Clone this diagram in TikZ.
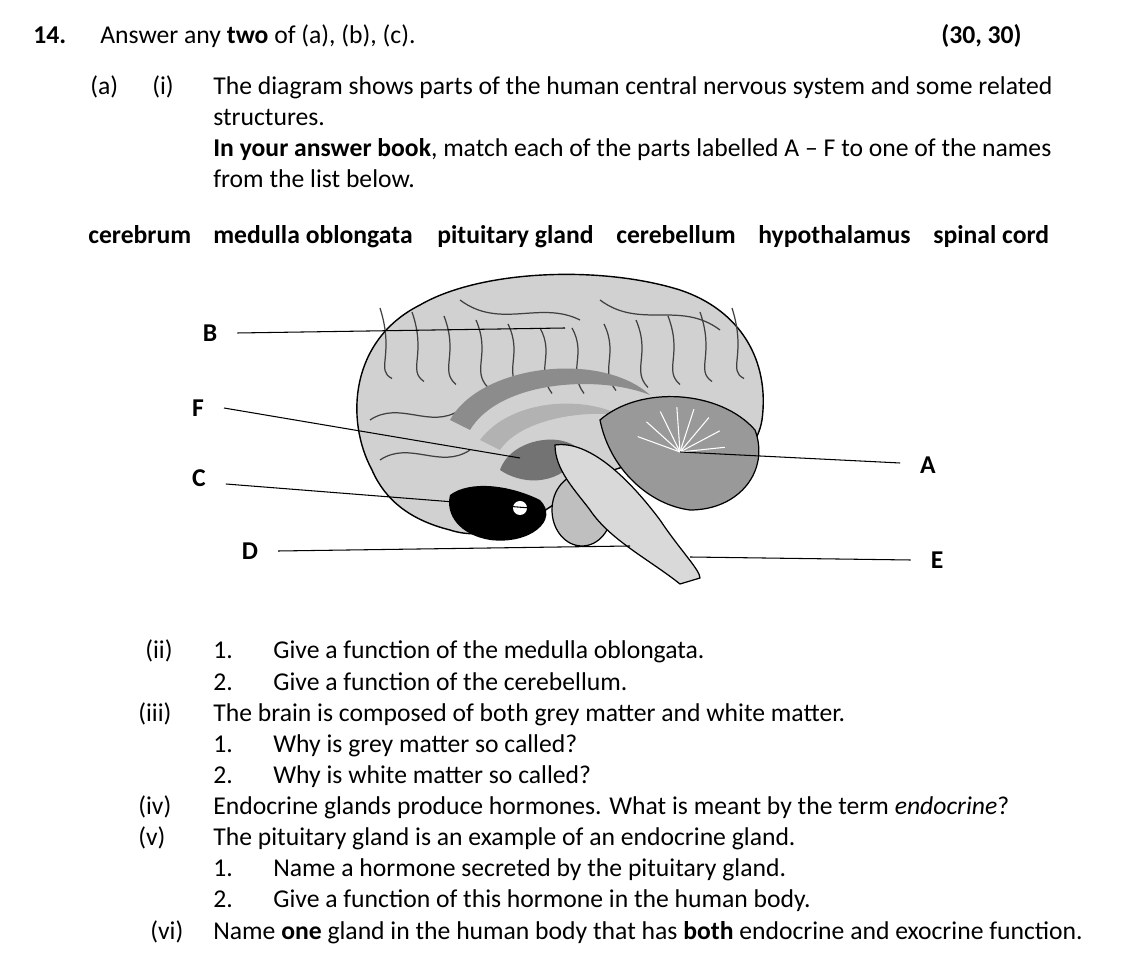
\documentclass[tikz,border=0pt]{standalone}
\usepackage{fontspec}
\setmainfont{Carlito}
\usetikzlibrary{positioning}

\tikzset{
	txt/.style={anchor=west, inner sep=0pt, text height=10pt, text depth=3pt, font=\fontsize{14.6}{18}\selectfont},
	lab/.style={inner sep=1pt, font=\fontsize{14.6}{18}\selectfont\bfseries},
	lead/.style={draw=black, line width=0.6pt},
	gyrus/.style={draw=black!75, line width=0.7pt},
}

\begin{document}
\begin{tikzpicture}[x=0.02cm, y=-0.02cm]
	\useasboundingbox (0,0) rectangle (1130,972);

	% heading
	\node[txt, font=\fontsize{14.6}{18}\selectfont\bfseries] (num) at (33,37) {14.};
	\node[txt] (head) at (100,37) {Answer any \textbf{two} of (a), (b), (c).};
	\node[txt, anchor=east, font=\fontsize{14.6}{18}\selectfont\bfseries] (marks) at (1022,37) {(30, 30)};

	% part (a)(i)
	\node[txt] (pa) at (90,88) {(a)};
	\node[txt] (pi) at (152,88) {(i)};
	\node[txt] (t1) at (213,88) {The diagram shows parts of the human central nervous system and some related};
	\node[txt] (t2) at (213,119) {structures.};
	\node[txt] (t3) at (213,150) {\textbf{In your answer book}, match each of the parts labelled A -- F to one of the names};
	\node[txt] (t4) at (213,181) {from the list below.};

	% word list
	\foreach \x/\w in {88/cerebrum, 213/medulla oblongata, 437/pituitary gland, 616/cerebellum, 758/hypothalamus, 933/spinal cord}
		\node[txt, font=\fontsize{14.6}{18}\selectfont\bfseries] at (\x,237) {\w};

	% brain: cerebrum
	\fill[black!18, draw=black, line width=0.8pt]
		(372,470) .. controls (345,420) and (350,340) .. (420,305)
		.. controls (480,270) and (600,265) .. (680,290)
		.. controls (740,310) and (770,360) .. (762,420)
		.. controls (755,460) and (720,470) .. (690,465)
		.. controls (640,455) and (600,470) .. (560,500)
		.. controls (520,530) and (480,540) .. (450,530)
		.. controls (410,520) and (385,500) .. (372,470) -- cycle;
	% gyri
	\foreach \a in {0,...,11}
		\draw[gyrus] ({380+\a*32},{330-abs(\a-5.5)*4})
			.. controls ({395+\a*32},{355}) and ({375+\a*32},{370}) .. ({392+\a*32},{395-abs(\a-5.5)*3});
	\draw[gyrus] (370,420) .. controls (400,400) and (430,430) .. (460,410);
	\draw[gyrus] (380,460) .. controls (410,440) and (440,470) .. (470,450);
	\draw[gyrus] (460,300) .. controls (500,330) and (540,300) .. (580,320);
	\draw[gyrus] (600,300) .. controls (640,330) and (680,300) .. (720,330);
	% corpus callosum
	\fill[black!45] (450,420) .. controls (480,365) and (600,350) .. (650,395)
		.. controls (600,375) and (500,380) .. (470,430) -- cycle;
	\fill[black!30] (480,440) .. controls (510,400) and (580,395) .. (620,415)
		.. controls (580,410) and (520,420) .. (500,450) -- cycle;
	% thalamus / hypothalamus area
	\fill[black!55] (500,470) .. controls (510,440) and (560,430) .. (580,450)
		.. controls (570,480) and (530,490) .. (500,470) -- cycle;
	% pituitary and dark base
	\fill[black] (450,495) .. controls (470,480) and (510,485) .. (540,500)
		.. controls (560,520) and (530,545) .. (490,540)
		.. controls (460,535) and (445,515) .. (450,495) -- cycle;
	\fill[white] (520,508) circle (7);
	% cerebellum
	\fill[black!40, draw=black, line width=0.7pt]
		(600,420) .. controls (640,385) and (720,390) .. (755,430)
		.. controls (770,470) and (740,510) .. (690,510)
		.. controls (650,505) and (610,470) .. (600,420) -- cycle;
	\foreach \r in {0,...,7}
		\draw[white, line width=0.6pt] (680,452) -- ++({200+\r*22}:{45});
	% pons
	\fill[black!25, draw=black, line width=0.7pt] (582,510) ellipse (30 and 36);
	% brainstem / spinal cord
	\fill[black!15, draw=black, line width=0.7pt]
		(555,445) .. controls (590,440) and (630,480) .. (660,520)
		.. controls (680,550) and (700,570) .. (700,578)
		-- (680,584)
		.. controls (650,560) and (610,540) .. (590,510)
		.. controls (575,490) and (555,470) .. (555,445) -- cycle;

	% leader end points
	\coordinate (pB) at (565,328);
	\coordinate (pF) at (520,458);
	\coordinate (pC) at (530,508);
	\coordinate (pD) at (630,546);
	\coordinate (pA) at (680,452);
	\coordinate (pE) at (690,557);

	% labels
	\node[lab] (B) at (210,333) {B};
	\node[lab] (F) at (198,408) {F};
	\node[lab] (C) at (199,478) {C};
	\node[lab] (D) at (250,551) {D};
	\node[lab] (A) at (928,465) {A};
	\node[lab] (E) at (937,560) {E};

	\draw[lead] (B.east) ++(18,0) -- (pB);
	\draw[lead] (F.east) ++(18,0) -- (pF);
	\draw[lead] (C.east) ++(18,6) -- (pC);
	\draw[lead] (D.east) ++(18,0) -- (pD);
	\draw[lead] (A.west) ++(-18,-2) -- (pA);
	\draw[lead] (E.west) ++(-18,0) -- (pE);

	% parts (ii) to (vi)
	\node[txt] (pii) at (145,652) {(ii)};
	\node[txt] at (213,652) {1.};
	\node[txt] at (273,652) {Give a function of the medulla oblongata.};
	\node[txt] at (213,684) {2.};
	\node[txt] at (273,684) {Give a function of the cerebellum.};
	\node[txt] (piii) at (138,715) {(iii)};
	\node[txt] at (213,715) {The brain is composed of both grey matter and white matter.};
	\node[txt] at (213,746) {1.};
	\node[txt] at (273,746) {Why is grey matter so called?};
	\node[txt] at (213,777) {2.};
	\node[txt] at (273,777) {Why is white matter so called?};
	\node[txt] (piv) at (138,808) {(iv)};
	\node[txt] at (213,808) {Endocrine glands produce hormones. What is meant by the term \textit{endocrine}?};
	\node[txt] (pv) at (138,839) {(v)};
	\node[txt] at (213,839) {The pituitary gland is an example of an endocrine gland.};
	\node[txt] at (213,870) {1.};
	\node[txt] at (273,870) {Name a hormone secreted by the pituitary gland.};
	\node[txt] at (213,901) {2.};
	\node[txt] at (273,901) {Give a function of this hormone in the human body.};
	\node[txt] (pvi) at (150,933) {(vi)};
	\node[txt] at (213,933) {Name \textbf{one} gland in the human body that has \textbf{both} endocrine and exocrine function.};
\end{tikzpicture}
\end{document}
